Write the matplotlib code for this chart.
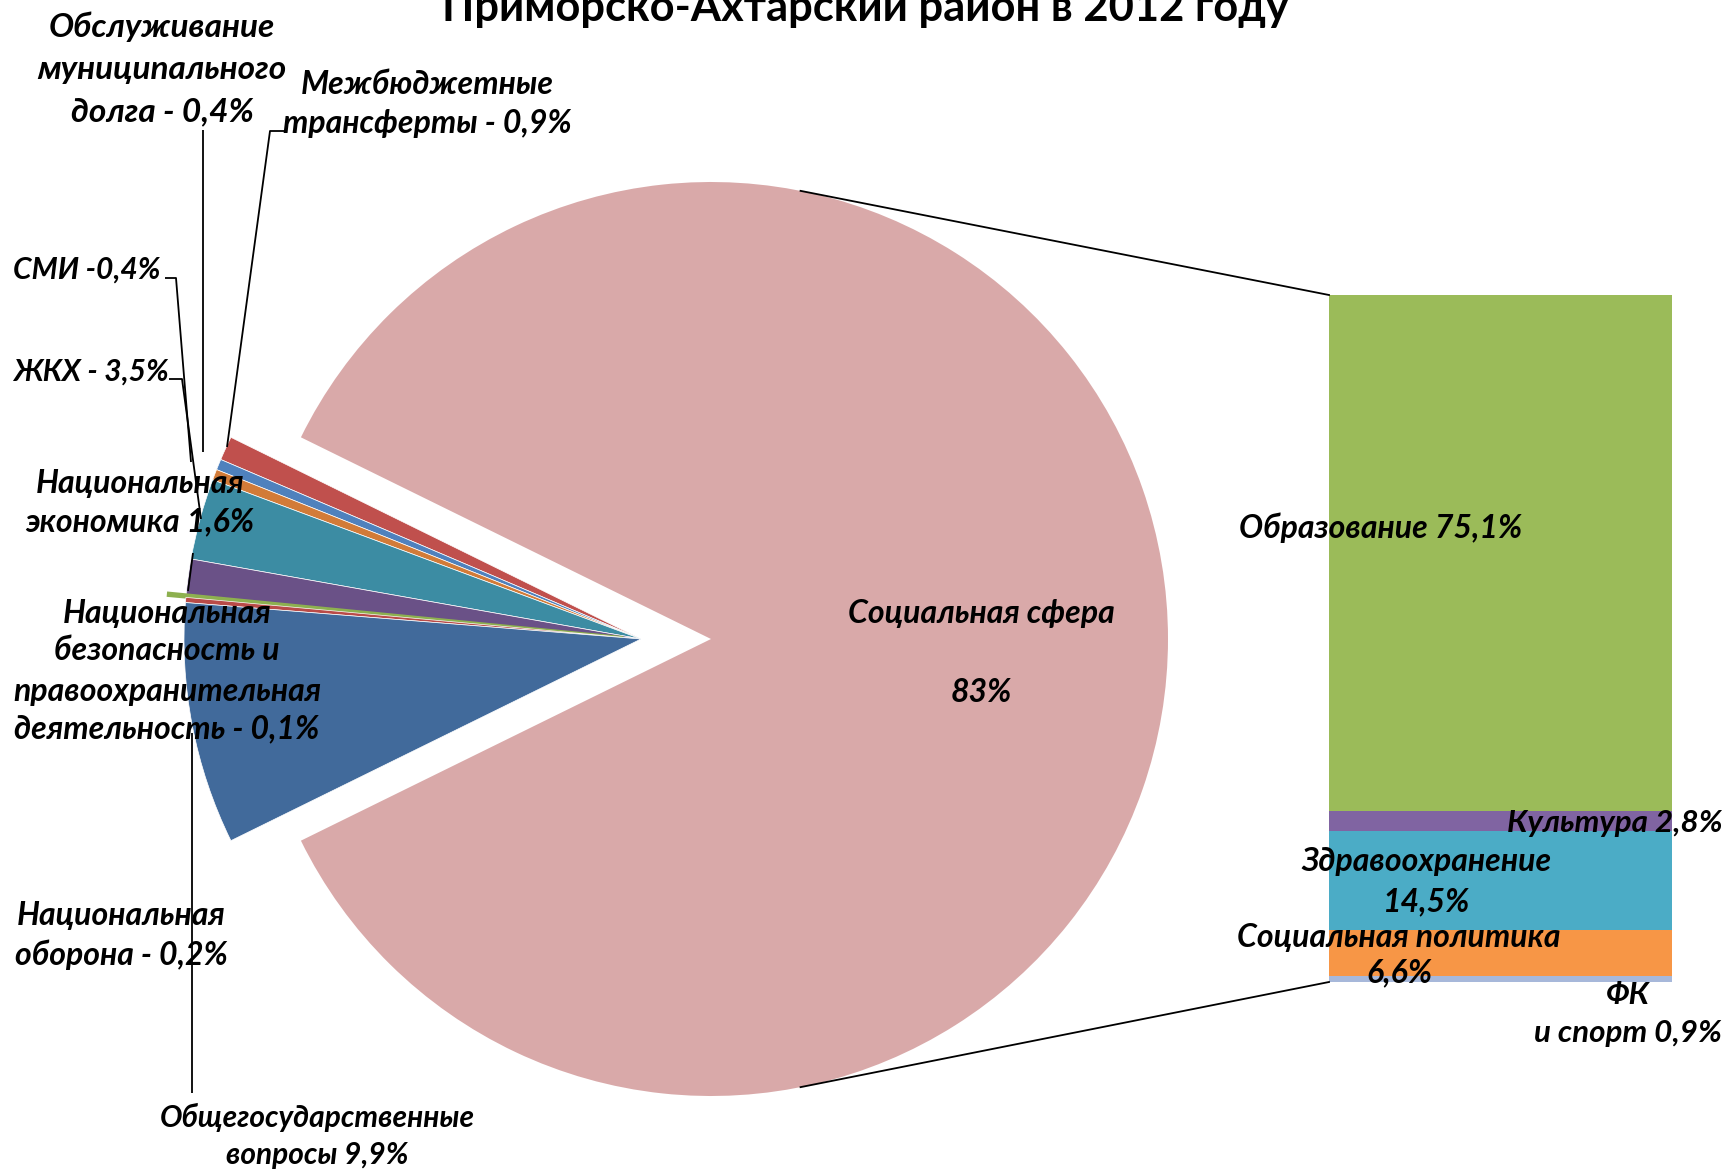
import matplotlib
matplotlib.use("Agg")
import matplotlib.pyplot as plt
import numpy as np

plt.rcParams['font.family'] = ['Lato', 'DejaVu Sans']

W, H = 1725, 1171

# ---------------- data ----------------
pie_names = ["Социальная сфера", "Межбюджетные трансферты", "Обслуживание муниципального долга",
             "СМИ", "ЖКХ", "Национальная экономика", "Национальная безопасность",
             "Национальная оборона", "Общегосударственные вопросы"]
# slice sizes as drawn in the picture (share of the circle, %)
pie_values = [85.4, 0.85, 0.38, 0.38, 2.86, 1.25, 0.10, 0.18, 8.54]
pie_colors = ["#D9A9A9", "#C0504D", "#4F81BD", "#D27B38", "#3C8CA3", "#6A5187",
              "#8DB04F", "#B94B48", "#416A9B"]

bar_names = ["ФК и спорт", "Социальная политика", "Здравоохранение", "Культура", "Образование"]
bar_values = [0.9, 6.6, 14.5, 2.8, 75.1]
bar_colors = ["#A7B8DA", "#F79646", "#4BACC6", "#8064A2", "#9BBB59"]

title_text = "Приморско-Ахтарский район в 2012 году"

# labels: (lines, x anchor, y of each line (px from top), alignment, size)
labels = [
    (["Обслуживание", "муниципального", "долга - 0,4%"], 162, [27, 70, 112], 'center', 24),
    (["Межбюджетные", "трансферты - 0,9%"], 427, [85, 123], 'center', 23),
    (["СМИ -0,4%"], 13, [270], 'left', 21.5),
    (["ЖКХ - 3,5%"], 13, [372], 'left', 21.5),
    (["Национальная", "экономика 1,6%"], 140, [484, 522], 'center', 23),
    (["Национальная", "безопасность и", "правоохранительная", "деятельность - 0,1%"], 167,
     [613, 651, 692, 729], 'center', 23),
    (["Национальная", "оборона - 0,2%"], 121, [915, 955], 'center', 23),
    (["Общегосударственные", "вопросы 9,9%"], 317, [1117, 1155], 'center', 21.5),
    (["Социальная сфера", "", "83%"], 981, [614, 653, 693], 'center', 23),
    (["Образование 75,1%"], 1381, [528], 'center', 23),
    (["Культура 2,8%"], 1615, [823], 'center', 22.6),
    (["Здравоохранение", "14,5%"], 1427, [862, 902], 'center', 23),
    (["Социальная политика", "6,6%"], 1399, [937, 973], 'center', 23),
    (["ФК", "и спорт 0,9%"], 1628, [995, 1033], 'center', 22.6),
]

# leader lines (pixel layout, y from top)
leaders = [
    [(203, 130), (203, 452)],
    [(284, 131), (270, 131), (227, 447)],
    [(165, 278), (176, 278), (191, 462)],
    [(169, 379), (182, 379), (201, 519)],
    [(193, 553), (188, 591)],
    [(192, 733), (192, 1093)],
]

# ---------------- layout ----------------
apex = (641, H - 639)
radius = 457
social_shift = 70
green_shift = 18
bar_left, bar_right, bar_top, bar_bottom = 1329, 1672, 295, 982

fig = plt.figure(figsize=(W / 100, H / 100), dpi=100)
ax = fig.add_axes([0, 0, 1, 1])
ax.set_zorder(2)
ax.patch.set_visible(False)

frac_social = pie_values[0] / sum(pie_values)
explode = [0.0] * len(pie_values)
explode[0] = social_shift
explode[6] = green_shift
wedges, _ = ax.pie(pie_values, colors=pie_colors, startangle=-frac_social * 180,
                   counterclock=True, center=apex, radius=radius, explode=explode,
                   wedgeprops=dict(edgecolor='white', linewidth=0.5))
wedges[0].set_linewidth(0)
wedges[6].set_edgecolor(pie_colors[6])
wedges[6].set_linewidth(1.8)

ax.set_xlim(0, W)
ax.set_ylim(0, H)
ax.set_aspect('equal')
ax.axis('off')

# connector lines from the social slice to the bar
sc = (apex[0] + social_shift, apex[1])
theta = np.deg2rad(78.7)
top_pt = (sc[0] + radius * np.cos(theta), sc[1] + radius * np.sin(theta))
bot_pt = (sc[0] + radius * np.cos(theta), sc[1] - radius * np.sin(theta))
ax.plot([top_pt[0], bar_left], [top_pt[1], H - bar_top], color='black', lw=1.3)
ax.plot([bot_pt[0], bar_left], [bot_pt[1], H - bar_bottom], color='black', lw=1.3)

# stacked bar
axb = fig.add_axes([bar_left / W, (H - bar_bottom) / H, (bar_right - bar_left) / W,
                    (bar_bottom - bar_top) / H])
axb.set_zorder(1)
bottom = 0.0
for v, c in zip(bar_values, bar_colors):
    axb.bar(0, v, bottom=bottom, width=1.0, color=c, edgecolor='none')
    bottom += v
axb.set_xlim(-0.5, 0.5)
axb.set_ylim(0, sum(bar_values))
axb.axis('off')

# leader lines
for pts in leaders:
    xs = [p[0] for p in pts]
    ys = [H - p[1] for p in pts]
    ax.plot(xs, ys, color='black', lw=1.3, solid_capstyle='butt')

# labels
for lines, x, ys, ha, fs in labels:
    for line, y in zip(lines, ys):
        if line:
            ax.text(x, H - y, line, ha=ha, va='center', fontsize=fs,
                    fontweight='bold', fontstyle='italic', color='black', zorder=5)

# title (partly cut off at the top as in the original)
ax.text(865, H - 21, title_text, ha='center', va='baseline', fontsize=31.3,
        fontweight='bold', color='black')

fig.savefig("out.png", dpi=100)
